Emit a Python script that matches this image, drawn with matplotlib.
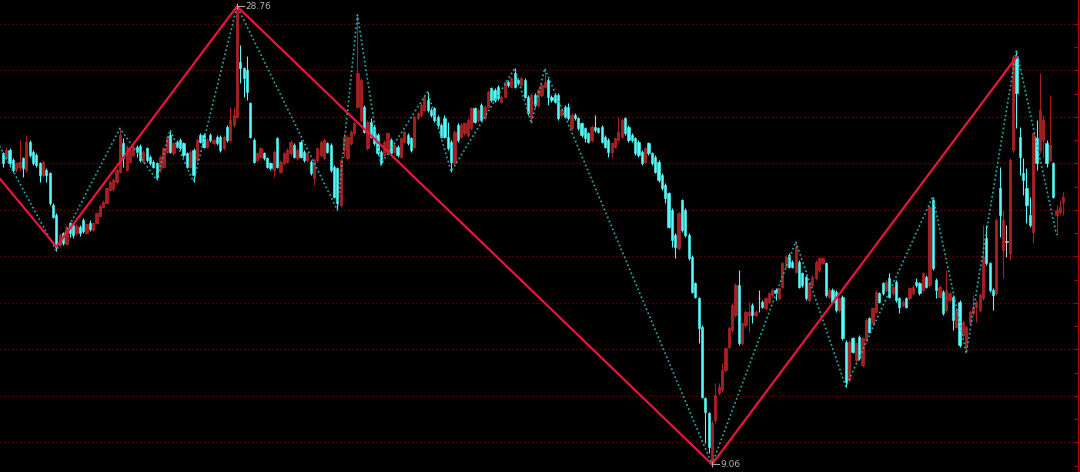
import matplotlib
matplotlib.use("Agg")
import matplotlib.pyplot as plt
import numpy as np

# K线数据 (开, 高, 低, 收)
opens = [
    22.44, 22.22, 22.58, 22.15, 21.72, 21.86, 22.22, 21.72, 22.94, 22.51,
    22.37, 22.01, 21.51, 21.72, 21.58, 20.21, 19.78, 18.49, 19.00, 18.52,
    19.43, 19.35, 19.00, 19.28, 19.57, 19.02, 19.46, 19.14, 19.46, 19.74,
    20.14, 20.29, 20.86, 20.89, 21.22, 21.65, 22.87, 21.72, 22.08, 22.37,
    22.72, 22.77, 22.08, 22.65, 22.29, 22.08, 22.01, 21.72, 21.86, 22.51,
    23.23, 22.44, 22.94, 23.01, 22.87, 22.44, 21.86, 22.58, 22.15, 23.23,
    23.23, 22.72, 23.23, 22.87, 23.15, 23.15, 22.65, 23.58, 23.01, 23.66,
    24.01, 26.38, 26.09, 26.02, 24.59, 23.01, 22.15, 22.29, 22.44, 22.22,
    22.01, 21.72, 23.08, 21.65, 22.01, 22.08, 22.44, 22.80, 22.22, 22.94,
    22.51, 22.15, 22.08, 21.36, 22.15, 22.37, 22.22, 22.87, 22.80, 21.86,
    21.79, 20.21, 22.58, 22.22, 22.87, 23.30, 24.44, 23.87, 24.44, 22.65,
    23.80, 23.58, 23.23, 22.51, 22.37, 22.51, 23.01, 22.51, 22.72, 22.29,
    22.94, 23.23, 23.08, 22.72, 23.94, 24.09, 24.30, 24.73, 24.30, 24.37,
    24.01, 23.66, 23.94, 23.15, 22.94, 22.01, 23.66, 23.15, 23.30, 23.23,
    23.51, 24.37, 23.87, 24.52, 23.94, 24.44, 25.23, 25.16, 25.30, 24.66,
    24.87, 25.52, 25.30, 25.88, 25.59, 25.38, 25.59, 24.87, 23.94, 24.95,
    24.52, 24.95, 25.30, 25.59, 24.87, 24.95, 24.95, 24.09, 24.44, 24.44,
    23.51, 24.09, 23.94, 23.73, 23.51, 23.30, 23.01, 23.58, 23.51, 23.58,
    23.15, 23.01, 22.51, 22.72, 23.01, 23.15, 23.94, 23.58, 23.23, 23.08,
    22.94, 22.51, 22.08, 22.87, 22.44, 22.29, 22.08, 21.51, 21.07, 20.72,
    20.00, 18.92, 18.35, 20.43, 20.00, 18.92, 17.99, 16.85, 16.20, 14.98,
    11.90, 11.25, 9.10, 10.97, 12.11, 12.26, 13.12, 14.12, 14.84, 15.48,
    16.77, 14.26, 15.05, 15.48, 15.91, 15.48, 16.20, 16.06, 15.77, 16.06,
    16.34, 16.56, 16.20, 16.70, 17.56, 18.06, 17.78, 17.35, 17.78, 17.27,
    17.13, 16.13, 16.77, 17.06, 17.42, 17.70, 17.70, 16.27, 16.56, 16.48,
    15.70, 16.27, 14.34, 12.69, 14.48, 13.55, 14.55, 13.33, 14.41, 15.34,
    15.12, 15.63, 16.41, 16.85, 16.56, 17.06, 16.41, 16.92, 16.20, 15.91,
    16.20, 16.20, 16.41, 16.92, 16.85, 16.56, 17.13, 16.77, 20.43, 16.99,
    16.27, 16.48, 15.70, 16.13, 16.27, 14.98, 16.06, 14.62, 14.12, 15.12,
    15.55, 15.84, 15.70, 16.20, 18.78, 17.70, 16.56, 16.41, 20.93, 18.28,
    18.64, 18.14, 22.58, 26.52, 23.15, 21.58, 20.93, 19.78, 19.07, 23.08,
    22.58, 23.01, 22.87, 22.15, 22.01, 19.78, 19.93, 20.36,
]
highs = [
    22.51, 22.72, 22.65, 22.22, 22.08, 23.01, 22.29, 23.23, 23.01, 22.58,
    22.44, 22.08, 22.15, 21.79, 21.65, 20.29, 19.86, 19.00, 19.07, 19.35,
    19.50, 19.43, 19.40, 19.35, 19.64, 19.46, 19.57, 19.50, 19.93, 20.26,
    20.43, 21.00, 21.29, 21.36, 21.79, 23.51, 23.08, 22.80, 22.72, 22.78,
    22.80, 22.84, 22.58, 22.72, 22.37, 22.15, 22.08, 22.37, 22.72, 23.23,
    23.44, 22.94, 23.01, 23.08, 22.94, 22.51, 22.58, 22.65, 23.08, 23.30,
    23.30, 23.08, 23.30, 23.08, 23.23, 23.23, 23.23, 23.66, 24.44, 24.44,
    28.76, 27.10, 26.16, 26.62, 24.66, 23.08, 22.51, 22.72, 22.51, 22.29,
    22.08, 22.58, 23.15, 22.15, 22.51, 22.65, 23.01, 22.87, 22.65, 23.01,
    22.58, 22.51, 22.15, 22.22, 22.72, 23.01, 23.08, 22.94, 22.87, 21.94,
    21.86, 22.22, 23.30, 23.23, 23.44, 23.80, 28.39, 25.66, 24.52, 23.87,
    23.94, 23.66, 23.30, 22.58, 23.01, 23.37, 23.08, 22.87, 22.80, 23.15,
    23.44, 23.30, 23.15, 24.09, 24.23, 24.59, 24.95, 25.09, 24.37, 24.44,
    24.09, 23.73, 24.09, 23.80, 23.01, 23.44, 23.73, 23.73, 23.80, 23.94,
    24.44, 24.44, 24.37, 24.59, 24.52, 25.16, 25.30, 25.23, 25.38, 24.95,
    25.59, 25.59, 25.73, 26.09, 25.66, 25.73, 25.66, 24.95, 25.02, 25.02,
    25.23, 25.45, 26.09, 25.66, 24.95, 25.02, 25.02, 24.37, 24.52, 24.59,
    24.16, 24.16, 24.01, 23.80, 23.58, 23.37, 23.66, 24.09, 23.58, 23.66,
    23.23, 23.08, 22.94, 23.15, 24.01, 23.94, 24.01, 23.66, 23.30, 23.15,
    23.01, 22.58, 22.72, 22.94, 22.51, 22.37, 22.15, 21.58, 21.15, 20.79,
    20.07, 19.00, 19.93, 20.46, 20.07, 19.00, 18.06, 16.92, 16.27, 15.05,
    11.97, 11.33, 10.97, 12.54, 12.54, 13.40, 14.12, 15.00, 16.00, 16.85,
    17.42, 15.20, 15.70, 16.06, 15.98, 15.70, 16.56, 16.13, 16.27, 16.48,
    16.63, 16.63, 16.70, 17.78, 18.06, 18.14, 17.85, 18.64, 17.85, 17.35,
    17.20, 16.92, 17.20, 17.85, 17.99, 17.99, 17.78, 16.63, 16.63, 16.56,
    16.27, 16.34, 14.41, 14.41, 14.55, 14.34, 14.62, 14.55, 15.34, 15.41,
    15.84, 16.56, 16.48, 16.92, 16.99, 17.27, 16.77, 16.99, 16.27, 16.13,
    16.27, 16.70, 16.77, 17.06, 16.92, 17.35, 17.20, 20.21, 20.57, 17.06,
    16.77, 16.56, 17.42, 16.48, 16.34, 15.77, 16.13, 15.27, 15.05, 15.70,
    16.34, 16.13, 16.41, 19.35, 19.35, 17.78, 16.63, 19.64, 21.86, 20.00,
    19.35, 22.22, 26.66, 26.88, 23.58, 22.22, 21.79, 20.57, 23.37, 23.87,
    25.88, 24.09, 23.01, 24.95, 22.08, 20.21, 20.43, 20.79,
]
lows = [
    21.86, 22.15, 21.86, 21.65, 21.65, 21.72, 21.43, 21.65, 22.29, 21.94,
    21.86, 21.22, 21.43, 21.22, 20.21, 19.64, 18.25, 18.42, 18.49, 18.49,
    18.85, 18.78, 18.92, 18.88, 19.02, 18.97, 19.11, 19.08, 19.40, 19.71,
    20.11, 20.26, 20.83, 20.83, 21.17, 21.61, 21.86, 21.69, 22.03, 22.29,
    22.29, 22.08, 22.03, 22.08, 21.94, 21.79, 21.29, 21.65, 21.79, 22.44,
    22.44, 22.37, 22.65, 22.58, 22.29, 21.79, 21.79, 21.22, 22.08, 22.87,
    22.65, 22.65, 22.94, 22.80, 22.80, 22.51, 22.58, 22.94, 22.94, 23.58,
    23.94, 25.45, 24.87, 24.73, 23.08, 22.01, 22.08, 22.22, 22.15, 21.79,
    21.72, 21.43, 21.79, 21.58, 21.94, 22.01, 22.37, 22.22, 22.15, 22.22,
    22.08, 22.08, 21.51, 21.07, 22.08, 22.29, 22.15, 22.44, 21.65, 20.50,
    20.00, 20.14, 22.29, 22.15, 22.80, 23.23, 24.37, 23.80, 23.30, 22.58,
    23.08, 22.80, 22.37, 21.94, 22.29, 22.44, 22.37, 22.44, 22.29, 22.22,
    22.87, 22.80, 22.51, 22.65, 23.87, 24.01, 24.23, 24.23, 24.01, 23.80,
    23.58, 23.08, 23.08, 22.58, 21.65, 21.94, 22.94, 23.08, 23.23, 23.15,
    23.44, 23.73, 23.80, 23.80, 23.87, 24.37, 24.66, 24.66, 24.73, 24.59,
    24.80, 25.30, 25.23, 25.23, 25.38, 25.30, 24.80, 24.09, 23.73, 24.44,
    24.44, 24.87, 25.23, 24.52, 24.66, 24.59, 23.87, 24.01, 23.94, 23.87,
    23.44, 23.87, 23.44, 23.15, 22.94, 22.87, 22.94, 23.37, 23.30, 22.87,
    22.65, 22.29, 22.22, 22.65, 22.94, 23.08, 23.23, 22.94, 22.94, 22.37,
    22.29, 21.94, 22.01, 22.37, 21.94, 21.58, 21.22, 20.86, 20.29, 19.21,
    18.42, 17.92, 18.28, 19.07, 18.85, 17.85, 16.41, 16.20, 14.26, 11.90,
    9.96, 9.53, 9.06, 10.82, 12.04, 12.18, 13.05, 14.05, 14.77, 15.41,
    14.19, 14.19, 14.98, 14.77, 15.12, 15.41, 15.63, 15.77, 15.70, 15.98,
    16.27, 16.13, 16.13, 16.63, 17.49, 17.49, 17.49, 17.27, 16.63, 16.70,
    16.13, 16.06, 16.70, 16.99, 17.35, 17.63, 16.27, 16.20, 15.98, 15.63,
    15.63, 14.41, 12.40, 12.62, 13.83, 13.48, 13.55, 13.26, 14.34, 14.69,
    15.05, 15.56, 15.98, 16.34, 16.48, 16.20, 16.34, 16.06, 15.55, 15.84,
    15.77, 16.13, 16.34, 16.70, 16.34, 16.48, 16.63, 16.70, 17.42, 16.20,
    16.20, 15.48, 15.63, 16.06, 14.84, 14.91, 14.12, 14.55, 13.83, 15.05,
    15.48, 15.20, 15.63, 16.13, 17.63, 16.48, 15.70, 16.34, 18.85, 17.06,
    17.99, 17.85, 22.51, 23.51, 21.51, 20.65, 19.43, 19.28, 18.57, 21.72,
    22.44, 22.29, 21.86, 22.08, 20.50, 18.92, 19.78, 19.78,
]
closes = [
    22.01, 22.58, 22.01, 21.72, 22.01, 22.08, 21.79, 22.94, 22.37, 22.01,
    21.94, 21.51, 22.08, 21.51, 20.29, 19.71, 18.42, 18.92, 18.57, 19.28,
    19.00, 18.92, 19.31, 19.00, 19.11, 19.40, 19.17, 19.43, 19.86, 20.17,
    20.36, 20.93, 21.22, 21.29, 21.72, 23.23, 22.22, 22.72, 22.58, 22.69,
    22.51, 22.15, 22.51, 22.15, 22.01, 21.86, 21.43, 22.29, 22.65, 23.15,
    22.51, 22.87, 22.72, 22.65, 22.37, 21.86, 22.51, 21.51, 23.01, 22.94,
    22.72, 23.01, 23.01, 23.01, 22.87, 22.58, 23.15, 23.01, 23.87, 24.09,
    28.76, 26.09, 25.66, 25.09, 23.15, 22.08, 22.44, 22.65, 22.22, 21.86,
    21.79, 22.51, 21.86, 22.08, 22.44, 22.58, 22.94, 22.29, 22.58, 22.29,
    22.15, 22.44, 21.58, 22.15, 22.65, 22.94, 23.01, 22.51, 21.72, 20.57,
    20.29, 22.15, 23.15, 23.15, 23.37, 23.73, 25.88, 25.59, 23.37, 23.80,
    23.15, 22.87, 22.44, 22.01, 22.94, 23.30, 22.44, 22.80, 22.37, 23.08,
    23.37, 22.87, 22.58, 24.01, 24.16, 24.52, 24.87, 24.30, 24.09, 23.87,
    23.66, 23.15, 23.15, 22.65, 22.08, 23.37, 23.01, 23.66, 23.73, 23.87,
    24.37, 23.80, 24.30, 23.87, 24.44, 25.09, 24.73, 24.73, 24.80, 24.87,
    25.52, 25.38, 25.66, 25.30, 25.45, 25.66, 24.87, 24.16, 24.95, 24.52,
    25.16, 25.38, 25.52, 24.87, 24.73, 24.66, 23.94, 24.30, 24.01, 23.94,
    24.09, 23.94, 23.51, 23.23, 23.08, 22.94, 23.58, 23.44, 23.37, 22.94,
    22.72, 22.51, 22.87, 23.08, 23.37, 23.87, 23.30, 23.01, 23.01, 22.44,
    22.37, 22.01, 22.65, 22.44, 22.01, 21.65, 21.29, 20.93, 20.50, 19.28,
    18.71, 18.42, 19.86, 19.14, 18.92, 17.92, 16.48, 16.27, 14.91, 11.97,
    11.33, 9.82, 10.82, 12.04, 12.40, 13.12, 14.05, 14.91, 15.91, 16.77,
    14.26, 15.12, 15.63, 15.63, 15.48, 15.63, 16.20, 15.84, 16.20, 16.41,
    16.56, 16.41, 16.63, 17.70, 17.99, 17.56, 17.56, 18.42, 16.70, 16.77,
    16.20, 16.85, 17.13, 17.78, 17.92, 17.92, 16.34, 16.56, 16.06, 15.70,
    16.20, 14.48, 12.62, 14.34, 13.91, 14.26, 13.62, 14.48, 15.27, 14.77,
    15.77, 16.48, 16.06, 16.41, 16.92, 16.27, 16.70, 16.13, 15.84, 16.06,
    15.84, 16.63, 16.70, 16.77, 16.41, 17.27, 16.70, 20.14, 17.49, 16.56,
    16.70, 15.55, 16.56, 16.41, 15.27, 15.70, 14.19, 15.20, 14.98, 15.63,
    15.84, 16.06, 16.34, 17.99, 17.70, 16.56, 16.34, 19.57, 19.78, 19.57,
    18.64, 22.15, 26.60, 25.02, 22.29, 21.29, 20.21, 19.35, 23.30, 22.01,
    24.30, 23.87, 22.01, 22.80, 20.57, 20.00, 20.14, 20.57,
]

# 大级别之字线(红) 和 小级别之字线(青色虚线)
zz_big_idx = [-1, 16, 70, 212, 303]
zz_big_val = [21.36, 18.42, 28.76, 9.06, 26.58]
zz_small_idx = [-1, 16, 35, 46, 50, 57, 70, 100, 106, 113, 127, 134, 153, 158,
                162, 212, 237, 252, 278, 288, 303, 315]
zz_small_val = [22.75, 18.25, 23.51, 21.29, 23.44, 21.22, 28.76, 20.00, 28.39,
                21.94, 25.09, 21.65, 26.09, 23.73, 26.09, 9.06, 18.64, 12.40,
                20.57, 13.83, 26.88, 18.92]

grid_levels = list(range(10, 29, 2))

RED = '#a81f1f'
RED_EDGE = '#cc2a2e'
CYAN = '#54fcfc'
FLAT = '#c8c8c8'

o = np.array(opens)
h = np.array(highs)
l = np.array(lows)
c = np.array(closes)
idx = np.arange(len(c))

fig = plt.figure(figsize=(10.8, 4.72), dpi=100, facecolor='black')
ax = fig.add_axes([0, 0, 1078 / 1080, 1])
ax.set_facecolor('black')
ax.set_xlim(-0.85, 321.4)
ax.set_ylim(8.73, 29.03)

# 网格线
for g in grid_levels:
    ax.axhline(g, color='#800000', lw=0.9, ls=(0, (1, 2.2)), zorder=0)

# 影线 + 实体
wick_col = np.where(c > o, RED, np.where(c < o, CYAN, FLAT))
edge_col = np.where(c > o, RED_EDGE, np.where(c < o, CYAN, FLAT))
ax.vlines(idx, l, h, colors=wick_col, lw=0.8, zorder=2)
body_low = np.minimum(o, c)
body_h = np.maximum(np.abs(c - o), 0.03)
ax.bar(idx, body_h, 0.66, bottom=body_low, color=wick_col,
       edgecolor=edge_col, linewidth=0.4, zorder=3)

# 之字线
ax.plot(zz_big_idx, zz_big_val, color='#e8163f', lw=1.6, zorder=5)
ax.plot(zz_small_idx, zz_small_val, color='#1fb4b4', lw=1.2,
        ls=(0, (1, 1.6)), zorder=4)

# 最高/最低价标注
k_hi = int(np.argmax(zz_big_val))
k_lo = int(np.argmin(zz_big_val))
for k in (k_hi, k_lo):
    xi, yv = zz_big_idx[k], zz_big_val[k]
    ax.plot([xi, xi + 2.2], [yv, yv], color='#a8a8a8', lw=0.8, zorder=6)
    ax.plot([xi], [yv], marker='|', color='#a8a8a8', ms=4, mew=0.8, zorder=6)
    ax.text(xi + 2.5, yv, f'{yv:.2f}', color='#b4b4b4', fontsize=6.5,
            va='center', ha='left', zorder=6)

# 右侧边框
for s in ('left', 'top', 'bottom'):
    ax.spines[s].set_visible(False)
ax.spines['right'].set_color('#b00000')
ax.spines['right'].set_linewidth(1.0)
ax.set_xticks([])
ax.yaxis.tick_right()
ax.set_yticks(range(9, 29))
ax.tick_params(axis='y', direction='in', length=3, color='#b00000',
               labelright=False, width=0.8)

fig.savefig('out.png', dpi=100, facecolor='black')
